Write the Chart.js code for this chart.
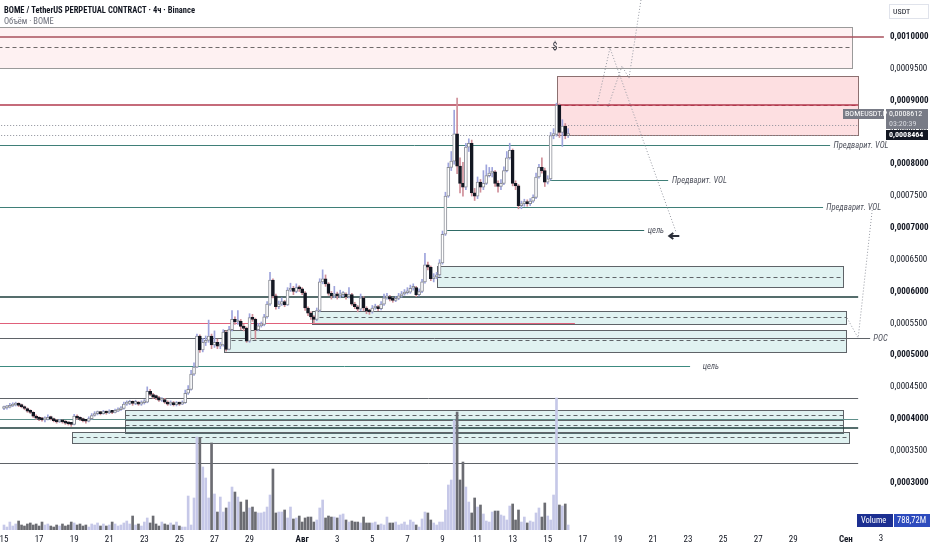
<!DOCTYPE html>
<html>
<head>
<meta charset="utf-8">
<script src="https://cdn.jsdelivr.net/npm/chart.js@4.4.1/dist/chart.umd.min.js"></script>
<style>
  html, body { margin: 0; padding: 0; background: #fff; }
  #wrap { width: 932px; height: 550px; position: relative; }
</style>
</head>
<body>
<div id="wrap"><canvas id="chart"></canvas></div>
<script>
// BOME/USDT perp, 4h candles from 15 Jul, prices in 1e-7 USDT
var opens = [
4160,4170,4180,4200,4215,4230,4210,4190,4160,4120,
4100,4040,4010,3990,3980,3990,4020,4000,3970,3950,
3960,3950,3930,3920,3910,4040,4010,3990,3970,3960,
4000,4050,4080,4090,4080,4100,4090,4110,4100,4120,
4140,4160,4230,4240,4250,4240,4250,4230,4250,4260,
4430,4380,4340,4330,4290,4300,4260,4230,4250,4220,
4240,4230,4250,4400,4460,4700,4810,5300,5080,5200,
5230,5300,5160,5200,5140,5160,5360,5090,5400,5560,
5520,5530,5450,5420,5220,5590,5560,5400,5460,5480,
5600,5800,6180,5930,5760,5800,5840,5790,6020,6050,
6000,6060,6040,5980,5740,5660,5600,5560,5700,6150,
6200,6120,5970,5930,5960,5930,5950,5960,5920,5950,
5800,5760,5720,5900,5740,5690,5680,5740,5760,5730,
5800,5900,5920,5880,5860,5890,5930,5960,5980,5990,
6050,6060,5950,6000,6150,6420,6380,6200,6230,6260,
6450,6900,7500,7950,8050,8480,7970,7700,7640,8270,
8330,7550,7500,7720,7640,7700,7820,7860,7880,7700,
7650,7700,7900,8100,8220,7700,7660,7350,7380,7400,
7380,7420,7480,7800,7950,7900,7720,7770,8450,8470,
8930,8500,8600,8450
];
var highs = [
4200,4210,4240,4250,4260,4250,4230,4200,4170,4140,
4110,4060,4030,4020,4030,4060,4040,4010,3990,3990,
3980,3970,3950,3940,4070,4060,4030,4010,3990,4030,
4080,4110,4120,4110,4130,4120,4140,4130,4150,4170,
4190,4260,4280,4290,4280,4290,4270,4280,4300,4500,
4460,4400,4370,4350,4330,4320,4280,4280,4270,4270,
4260,4280,4450,4520,4760,4880,5330,5320,5260,5300,
5550,5330,5380,5250,5200,5400,5380,5450,5700,5600,
5700,5560,5480,5440,5650,5640,5580,5500,5520,5640,
5840,6300,6200,5960,5850,5900,5860,6060,6130,6080,
6120,6090,6060,6000,5760,5680,5620,5740,6200,6340,
6260,6140,6000,6080,5990,6020,6000,5980,6060,5970,
5830,5780,5960,5920,5760,5720,5780,5800,5780,5840,
5960,5970,5940,5900,5920,5970,6000,6030,6060,6100,
6120,6080,6040,6190,6600,6460,6400,6280,6300,6500,
6950,7560,8020,8200,8850,9040,8100,8030,8330,8400,
8380,7620,7800,7760,7900,7990,7950,7950,7900,7740,
7760,7960,8200,8330,8240,7740,7680,7420,7450,7440,
7460,7520,7860,8000,8100,7940,7820,8500,8560,8960,
8950,8700,8640,8560
];
var lows = [
4140,4150,4170,4190,4200,4190,4170,4140,4100,4080,
4020,3990,3970,3960,3950,3980,3980,3950,3930,3940,
3930,3910,3900,3880,3900,3990,3970,3950,3930,3950,
3990,4040,4060,4060,4070,4070,4080,4080,4090,4110,
4130,4150,4210,4220,4210,4220,4210,4210,4230,4250,
4360,4320,4300,4270,4270,4240,4210,4210,4200,4200,
4210,4220,4240,4380,4450,4680,4800,5040,5050,5150,
5200,5100,5120,5100,5100,5140,5060,5080,5380,5480,
5480,5400,5380,5200,5200,5530,5250,5380,5440,5460,
5580,5780,5900,5720,5730,5780,5760,5780,6000,5950,
5980,6000,5950,5700,5620,5560,5500,5540,5680,6120,
6080,5940,5880,5900,5880,5900,5920,5880,5900,5780,
5730,5680,5700,5700,5650,5640,5660,5720,5700,5710,
5780,5880,5850,5830,5840,5870,5910,5940,5960,5970,
6020,5920,5930,5980,6130,6340,6170,6150,6200,6240,
6430,6880,7480,7900,8000,7850,7550,7500,7600,8200,
7500,7430,7460,7560,7600,7680,7800,7800,7650,7560,
7600,7680,7880,8080,7660,7600,7300,7300,7340,7340,
7350,7400,7460,7780,7860,7650,7690,7750,8400,8440,
8420,8280,8400,8420
];
var closes = [
4170,4180,4200,4215,4230,4210,4190,4160,4120,4100,
4040,4010,3990,3980,3990,4020,4000,3970,3950,3960,
3950,3930,3920,3910,4040,4010,3990,3970,3960,4000,
4050,4080,4090,4080,4100,4090,4110,4100,4120,4140,
4160,4230,4240,4250,4240,4250,4230,4250,4260,4430,
4380,4340,4330,4290,4300,4260,4230,4250,4220,4240,
4230,4250,4400,4460,4700,4810,5300,5080,5200,5230,
5300,5160,5200,5140,5160,5360,5090,5400,5560,5520,
5530,5450,5420,5220,5590,5560,5400,5460,5480,5600,
5800,6180,5930,5760,5800,5840,5790,6020,6050,6000,
6060,6040,5980,5740,5660,5600,5560,5700,6150,6200,
6120,5970,5930,5960,5930,5950,5960,5920,5950,5800,
5760,5720,5900,5740,5690,5680,5740,5760,5730,5800,
5900,5920,5880,5860,5890,5930,5960,5980,5990,6050,
6060,5950,6000,6150,6420,6380,6200,6230,6260,6450,
6900,7500,7950,8050,8480,7970,7700,7640,8270,8330,
7550,7500,7720,7640,7700,7820,7860,7880,7700,7650,
7700,7900,8100,8220,7700,7660,7350,7380,7400,7380,
7420,7480,7800,7950,7900,7720,7770,8450,8470,8930,
8500,8600,8450,8464
];
// volume, millions of BOME
var volumes = [
790,470,1260,630,950,1420,790,630,950,1110,
790,950,630,1260,790,950,630,470,790,630,
950,630,790,1260,1110,790,950,630,790,470,
950,790,1110,630,950,630,790,1260,950,630,
790,1110,1420,950,2210,790,950,630,1260,1900,
1110,2210,950,630,1260,950,790,1110,790,1260,
630,470,470,5370,790,5060,14690,14540,9950,8220,
5060,13750,5690,2840,5210,2840,3480,4420,6790,6000,
5210,4420,2840,4740,3480,3630,2840,2690,2690,2840,
3630,5530,9640,2690,2840,2840,3160,1900,3630,1740,
1900,2210,1260,1900,2050,2050,1260,1580,3480,4740,
1900,2210,2050,2050,1900,2370,2530,1580,1260,1420,
1260,1260,1110,2050,1110,1110,1110,1260,790,950,
790,2050,1110,1110,1260,790,950,1260,790,1580,
1260,790,470,1740,2840,2690,1580,1110,790,1260,
1260,3160,7110,7900,17380,18640,7900,10740,6790,4420,
2690,5060,3630,3950,2530,1420,1260,2840,3000,3000,
2370,2210,1580,3790,4110,1580,3160,1260,2050,1110,
1420,1260,2690,3480,2050,4270,2210,1580,5530,20860,
3950,3790,4110,788.72
];

// x ticks: candle index of each labelled day (6 candles per day)
var xTickIdx = [0,12,24,36,48,60,72,84,102,114,126,138,150,162,174,186,198,210,222,234,246,258,270,288,300];
var xTickText = ['15','17','19','21','23','25','27','29','Авг','3','5','7','9','11','13','15','17','19','21','23','25','27','29','Сен','3'];
var yTickVals = [3000,3500,4000,4500,5000,5500,6000,6500,7000,7500,8000,8500,9000,9500,10000];

var lastPerp = 8612, lastSpot = 8464;

// drawn zones and levels (candle index, price)
var TEAL = 'rgba(38,166,154,0.14)';
var zones = [
  { from: -2, to: 290.1, top: 10157, bottom: 9513, fill: 'rgba(242,54,69,0.07)', edge: '#9a9a9a', dashes: [9843], dashColor: '#6f6a6a' },
  { from: 189.2, to: 292.2, top: 9387, bottom: 8459, fill: 'rgba(242,54,69,0.16)', edge: '#8c7070', dashes: [8931], dashColor: '#b23a4e' },
  { from: 148.1, to: 287, top: 6400, bottom: 6070, fill: TEAL, edge: '#5f6368', dashes: [6227], dashColor: '#5f6368' },
  { from: 105.4, to: 288, top: 5693, bottom: 5488, fill: TEAL, edge: '#5f6368', dashes: [5598], dashColor: '#5f6368' },
  { from: 75.3, to: 288, top: 5394, bottom: 5048, fill: TEAL, edge: '#5f6368', dashes: [5237], dashColor: '#5f6368' },
  { from: 41.4, to: 287, top: 4136, bottom: 3979, fill: TEAL, edge: '#5f6368', dashes: [4058], dashColor: '#5f6368' },
  { from: 41.4, to: 287, top: 3979, bottom: 3775, fill: TEAL, edge: '#5f6368', dashes: [3901], dashColor: '#5f6368' },
  { from: 23.3, to: 289, top: 3790, bottom: 3618, fill: TEAL, edge: '#5f6368', dashes: [3712], dashColor: '#5f6368' }
];
var levels = [
  { price: 10000, from: -2, to: 301, color: '#a9505c', width: 1.5 },
  { price: 8931, from: -2, to: 292.2, color: '#b23a4e', width: 1.5 },
  { price: lastPerp, from: -2, to: 292.2, color: '#8c8f99', width: 1, dash: [1, 2] },
  { price: lastSpot, from: -2, to: 292.2, color: '#8c8f99', width: 1, dash: [1, 2] },
  { price: 8302, from: -2, to: 282.6, color: '#3f7f78', width: 1, label: 'Предварит. VOL', lx: 283.8 },
  { price: 7752, from: 186.8, to: 227.2, color: '#3f7f78', width: 1, label: 'Предварит. VOL', lx: 228.5 },
  { price: 7328, from: -2, to: 280.2, color: '#3f7f78', width: 1, label: 'Предварит. VOL', lx: 281.3 },
  { price: 6966, from: 151.6, to: 219, color: '#2f6b66', width: 1, label: 'цель', lx: 220.2 },
  { price: 5920, from: -2, to: 292.2, color: '#1d3d3b', width: 1.5 },
  { price: 5504, from: -2, to: 195.3, color: '#e0607a', width: 1 },
  { price: 5268, from: -2, to: 296.3, color: '#5f6368', width: 1, label: 'POC', lx: 297.4 },
  { price: 4828, from: -2, to: 234.7, color: '#3c8a80', width: 1, label: 'цель', lx: 239 },
  { price: 4325, from: -2, to: 292.2, color: '#5f6368', width: 1 },
  { price: 3995, from: -2, to: 292.2, color: '#5e8f8a', width: 1 },
  { price: 3853, from: -2, to: 292.2, color: '#1d3d3b', width: 1.5 },
  { price: 3303, from: -2, to: 292.2, color: '#5f6368', width: 1 }
];
var paths = [
  [[202.9, 8931], [207.3, 9827], [229.9, 6935]],
  [[206.6, 8900], [211.4, 9544], [213.8, 9355]],
  [[213.8, 9355], [217.9, 10582]],
  [[297, 7280], [292.2, 5268]],
  [[288.4, 5583], [292.2, 5268]]
];

var F = "'Roboto Condensed','Liberation Sans',sans-serif";
var X_MIN = -1.37, X_MAX = 291.8;

function isUp(i) { return closes[i] >= opens[i]; }
function priceText(v) { return '0,' + String(Math.round(v)).padStart(7, '0'); }

var drawings = {
  id: 'drawings',
  beforeDatasetsDraw: function(chart) {
    var ctx = chart.ctx, x = chart.scales.x, y = chart.scales.y;
    var X = function(v) { return x.getPixelForValue(v); };
    var Y = function(v) { return Math.round(y.getPixelForValue(v)) + 0.5; };
    ctx.save();
    zones.forEach(function(z) {
      var x1 = Math.round(X(z.from)) + 0.5, x2 = Math.round(X(z.to)) + 0.5;
      var y1 = Y(z.top), y2 = Y(z.bottom);
      ctx.fillStyle = z.fill;
      ctx.fillRect(x1, y1, x2 - x1, y2 - y1);
      ctx.setLineDash([]);
      ctx.lineWidth = 1;
      ctx.strokeStyle = z.edge;
      ctx.strokeRect(x1, y1, x2 - x1, y2 - y1);
      ctx.setLineDash([4, 3]);
      ctx.strokeStyle = z.dashColor;
      z.dashes.forEach(function(d) {
        ctx.beginPath(); ctx.moveTo(x1, Y(d)); ctx.lineTo(x2, Y(d)); ctx.stroke();
      });
    });
    levels.forEach(function(l) {
      ctx.setLineDash(l.dash || []);
      ctx.lineWidth = l.width;
      ctx.strokeStyle = l.color;
      var yy = l.width > 1 ? Math.round(y.getPixelForValue(l.price)) : Y(l.price);
      ctx.beginPath(); ctx.moveTo(X(l.from), yy); ctx.lineTo(X(l.to), yy); ctx.stroke();
      if (l.label) {
        ctx.fillStyle = '#50535e';
        ctx.font = 'italic 8.5px ' + F;
        ctx.textAlign = 'left'; ctx.textBaseline = 'middle';
        ctx.fillText(l.label, X(l.lx), yy);
      }
    });
    ctx.setLineDash([1, 2]);
    ctx.lineWidth = 1;
    ctx.strokeStyle = '#9598a1';
    paths.forEach(function(p) {
      ctx.beginPath();
      p.forEach(function(pt, k) {
        var px = X(pt[0]), py = y.getPixelForValue(pt[1]);
        if (k) ctx.lineTo(px, py); else ctx.moveTo(px, py);
      });
      ctx.stroke();
    });
    ctx.setLineDash([]);
    // "$" mark on the upper zone and the arrow near the target
    ctx.fillStyle = '#2a2e39';
    ctx.font = '10px ' + F;
    ctx.textAlign = 'center'; ctx.textBaseline = 'middle';
    ctx.fillText('$', X(188.5), y.getPixelForValue(9843));
    var cx = X(229.3), cy = y.getPixelForValue(6872);
    ctx.strokeStyle = '#2a2e39'; ctx.lineWidth = 2;
    ctx.beginPath(); ctx.moveTo(cx + 5, cy); ctx.lineTo(cx - 4, cy); ctx.stroke();
    ctx.beginPath(); ctx.moveTo(cx - 1, cy - 3); ctx.lineTo(cx - 5, cy); ctx.lineTo(cx - 1, cy + 3); ctx.stroke();
    ctx.restore();
  },
  afterDraw: function(chart) {
    var ctx = chart.ctx, x = chart.scales.x, y = chart.scales.y;
    ctx.save();
    // header
    ctx.textAlign = 'left'; ctx.textBaseline = 'middle';
    ctx.fillStyle = '#131722';
    ctx.font = 'bold 8.5px ' + F;
    ctx.fillText('BOME / TetherUS PERPETUAL CONTRACT · 4ч · Binance', 4, 11);
    ctx.fillStyle = '#6a6d78';
    ctx.font = '8.5px ' + F;
    ctx.fillText('Объём · BOME', 4, 22);
    // currency box
    ctx.fillStyle = '#fff'; ctx.fillRect(889.5, 4.5, 39, 14);
    ctx.strokeStyle = '#e0e3eb'; ctx.lineWidth = 1; ctx.strokeRect(889.5, 4.5, 39, 14);
    ctx.fillStyle = '#131722'; ctx.font = '8px ' + F;
    ctx.fillText('USDT', 893, 12);
    // last price labels
    var yp = Math.round(y.getPixelForValue(lastPerp));
    ctx.fillStyle = '#787b86';
    ctx.fillRect(843, yp - 16, 41, 10);
    ctx.fillRect(886, yp - 16, 42, 20);
    ctx.fillStyle = '#fff'; ctx.font = '8px ' + F;
    ctx.fillText('BOMEUSDT.P', 845, yp - 11);
    ctx.fillText(priceText(lastPerp), 889, yp - 11);
    ctx.fillStyle = '#d6d8de';
    ctx.fillText('03:20:39', 889, yp - 1);
    var ys = Math.round(y.getPixelForValue(lastSpot));
    ctx.fillStyle = '#131722';
    ctx.fillRect(886, ys - 5, 42, 10);
    ctx.fillStyle = '#fff'; ctx.font = 'bold 8px ' + F;
    ctx.fillText(priceText(lastSpot), 889, ys);
    // volume legend
    ctx.fillStyle = '#1c2f91'; ctx.fillRect(857, 514, 36, 13);
    ctx.fillStyle = '#2d4bbd'; ctx.fillRect(894, 514, 36, 13);
    ctx.fillStyle = '#fff'; ctx.font = '8.5px ' + F;
    ctx.fillText('Volume', 861, 520.5);
    ctx.fillText(String(volumes[volumes.length - 1]).replace('.', ',') + 'M', 897, 520.5);
    // day labels past the right edge of the plot
    ctx.fillStyle = '#131722'; ctx.font = '9px ' + F;
    ctx.textAlign = 'center'; ctx.textBaseline = 'top';
    xTickIdx.forEach(function(v, k) {
      if (v > X_MAX) ctx.fillText(xTickText[k], x.getPixelForValue(v), x.top + 4);
    });
    ctx.restore();
  }
};

new Chart(document.getElementById('chart'), {
  type: 'bar',
  data: {
    datasets: [
      {
        label: 'Volume',
        yAxisID: 'yv',
        order: 3,
        data: volumes.map(function(v, i) { return { x: i, y: v }; }),
        backgroundColor: function(c) { return isUp(c.dataIndex) ? '#c6c8e8' : '#6b6c72'; },
        barThickness: 2,
        grouped: false
      },
      {
        label: 'Wick',
        yAxisID: 'y',
        order: 2,
        data: lows.map(function(l, i) { return { x: i, y: [l, highs[i]] }; }),
        backgroundColor: function(c) { return isUp(c.dataIndex) ? '#9ea4dc' : '#cf8e98'; },
        barThickness: 1,
        grouped: false
      },
      {
        label: 'Body',
        yAxisID: 'y',
        order: 1,
        data: opens.map(function(o, i) { return { x: i, y: [o, closes[i]] }; }),
        backgroundColor: function(c) { return isUp(c.dataIndex) ? '#ffffff' : '#131722'; },
        borderColor: function(c) { return isUp(c.dataIndex) ? '#8a8d96' : '#131722'; },
        borderWidth: 1,
        borderSkipped: false,
        barThickness: 3,
        minBarLength: 2,
        grouped: false
      }
    ]
  },
  options: {
    responsive: true,
    maintainAspectRatio: false,
    animation: false,
    events: [],
    layout: { padding: 0 },
    plugins: { legend: { display: false }, tooltip: { enabled: false } },
    scales: {
      x: {
        type: 'linear',
        position: 'bottom',
        offset: false,
        min: X_MIN,
        max: X_MAX,
        grid: { display: false, drawTicks: false, offset: false },
        border: { display: false },
        afterBuildTicks: function(s) {
          s.ticks = xTickIdx.filter(function(v) { return v <= X_MAX; }).map(function(v) { return { value: v }; });
        },
        afterFit: function(s) { s.height = 20; s.paddingLeft = 0; s.paddingRight = 0; },
        ticks: {
          autoSkip: false,
          maxRotation: 0,
          padding: 4,
          color: '#131722',
          font: function(c) {
            var t = c.tick ? xTickText[xTickIdx.indexOf(c.tick.value)] : '';
            return { family: F, size: 9, weight: (t === 'Авг' || t === 'Сен') ? 'bold' : 'normal' };
          },
          callback: function(v) { return xTickText[xTickIdx.indexOf(v)]; }
        }
      },
      y: {
        type: 'linear',
        position: 'right',
        min: 2250,
        max: 10582,
        grid: { display: false, drawTicks: false },
        border: { display: false },
        afterBuildTicks: function(s) {
          s.ticks = yTickVals.map(function(v) { return { value: v }; });
        },
        afterFit: function(s) { s.width = 75; s.paddingTop = 0; s.paddingBottom = 0; },
        ticks: {
          padding: 33,
          color: '#131722',
          font: function(c) {
            var bold = c.tick && c.tick.value % 1000 === 0;
            return { family: F, size: 9, weight: bold ? 'bold' : 'normal' };
          },
          callback: function(v) { return priceText(v); }
        }
      },
      yv: {
        type: 'linear',
        display: false,
        min: 0,
        max: 83740
      }
    }
  },
  plugins: [drawings]
});
</script>
</body>
</html>
